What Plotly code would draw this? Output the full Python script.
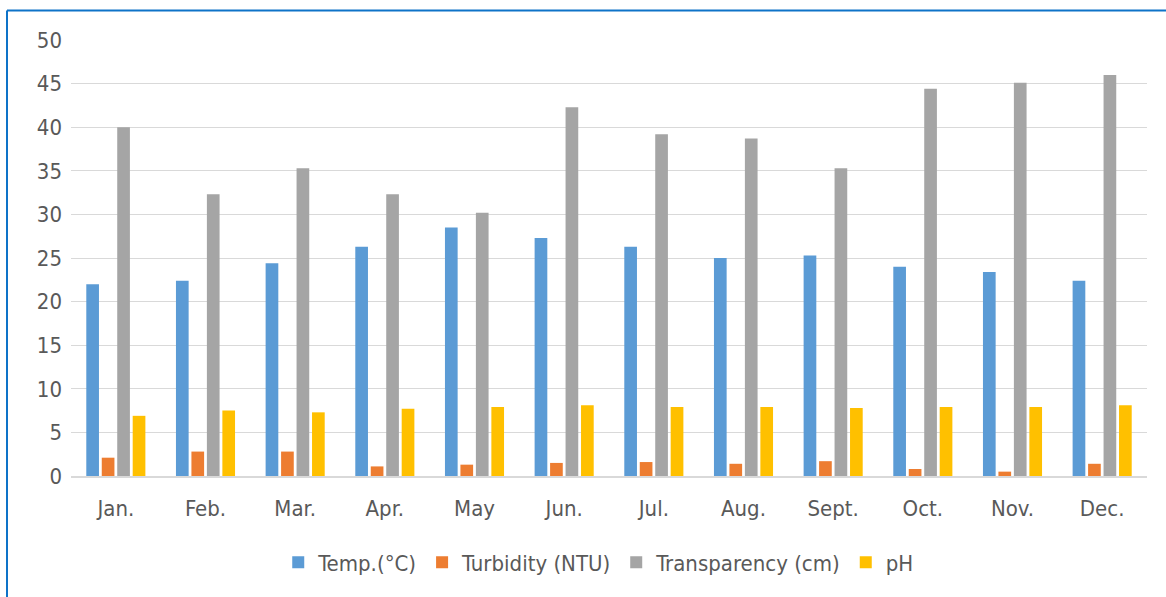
import plotly.graph_objects as go

months = ["Jan.", "Feb.", "Mar.", "Apr.", "May", "Jun.", "Jul.", "Aug.", "Sept.", "Oct.", "Nov.", "Dec."]
temp = [22.0, 22.4, 24.4, 26.3, 28.5, 27.3, 26.3, 25.0, 25.3, 24.0, 23.4, 22.4]
turbidity = [2.1, 2.8, 2.8, 1.1, 1.3, 1.5, 1.6, 1.4, 1.7, 0.8, 0.5, 1.4]
transparency = [40.0, 32.3, 35.3, 32.3, 30.2, 42.3, 39.2, 38.7, 35.3, 44.4, 45.1, 46.0]
ph = [6.9, 7.5, 7.3, 7.7, 7.9, 8.1, 7.9, 7.9, 7.8, 7.9, 7.9, 8.1]
yticks = [0, 5, 10, 15, 20, 25, 30, 35, 40, 45, 50]

series = [
    ("Temp.(°C)", temp, "#5B9BD5"),
    ("Turbidity (NTU)", turbidity, "#ED7D31"),
    ("Transparency (cm)", transparency, "#A5A5A5"),
    ("pH", ph, "#FFC000"),
]

FONT = "Liberation Sans Narrow, Arial Narrow, DejaVu Sans Condensed, sans-serif"

fig = go.Figure()
for name, vals, col in series:
    fig.add_trace(go.Bar(x=months, y=vals, name=name, marker_color=col,
                         marker_line_width=0))

W, H = 1166, 597
L, R, T, B = 71, 19, 39.5, 120.7
pw, ph_ = W - L - R, H - T - B

fig.update_layout(
    width=W, height=H,
    margin=dict(l=L, r=R, t=T, b=B, pad=0),
    paper_bgcolor="white", plot_bgcolor="white",
    barmode="group", bargap=0.31, bargroupgap=0.18,
    font=dict(family=FONT, size=22, color="#595959"),
    showlegend=True,
    legend=dict(orientation="h", x=0.49, xanchor="center", y=-0.15, yanchor="top",
                font=dict(size=22, color="#595959"), itemwidth=30,
                traceorder="normal"),
    xaxis=dict(showgrid=False, showline=True, linecolor="#D9D9D9", linewidth=1.5,
               ticks="", ticklabelstandoff=12, tickfont=dict(size=22, color="#595959")),
    yaxis=dict(range=[0, 50], tickvals=yticks, showgrid=True, gridcolor="#D9D9D9",
               gridwidth=1.3, zeroline=False, showline=False, ticks="",
               ticklabelstandoff=8, tickfont=dict(size=22, color="#595959")),
)

# outer blue frame (left and top edges visible)
x0 = (7 - L) / pw
ytop = (H - B - 10) / ph_
ybot = (H - B - 600) / ph_
fig.add_shape(type="line", xref="paper", yref="paper", x0=x0, x1=x0, y0=ybot, y1=ytop,
              line=dict(color="#0E73C8", width=2))
fig.add_shape(type="line", xref="paper", yref="paper", x0=x0, x1=(1170 - L) / pw, y0=ytop, y1=ytop,
              line=dict(color="#0E73C8", width=2))

fig.write_html("out.html", config={"displayModeBar": False},
               post_script="document.body.style.margin='0';")
